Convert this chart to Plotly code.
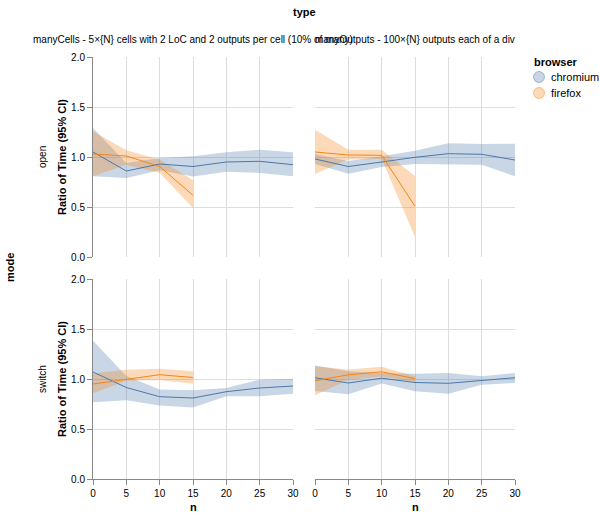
import plotly.graph_objects as go

# ---------------- data ----------------
n = [0, 5, 10, 15, 20, 25, 30]
n_ff = [0, 5, 10, 15]

# manyCells / open
cells_open_chr = [1.05, 0.86, 0.93, 0.905, 0.95, 0.957, 0.923]
cells_open_chr_lo = [0.807, 0.79, 0.867, 0.805, 0.853, 0.84, 0.807]
cells_open_chr_hi = [1.29, 0.94, 0.99, 1.007, 1.047, 1.073, 1.047]
cells_open_ff = [1.03, 1.01, 0.905, 0.617]
cells_open_ff_lo = [0.807, 0.923, 0.84, 0.49]
cells_open_ff_hi = [1.257, 1.067, 0.975, 0.768]

# manyOutputs / open
outs_open_chr = [0.98, 0.905, 0.95, 0.997, 1.033, 1.027, 0.97]
outs_open_chr_lo = [0.93, 0.833, 0.9, 0.93, 0.93, 0.923, 0.807]
outs_open_chr_hi = [1.03, 0.96, 1.007, 1.063, 1.137, 1.13, 1.133]
outs_open_ff = [1.05, 1.02, 1.017, 0.507]
outs_open_ff_lo = [0.83, 0.975, 0.98, 0.2]
outs_open_ff_hi = [1.273, 1.073, 1.073, 0.81]

# manyCells / switch
cells_sw_chr = [1.07, 0.915, 0.823, 0.81, 0.873, 0.91, 0.93]
cells_sw_chr_lo = [0.767, 0.787, 0.735, 0.715, 0.827, 0.827, 0.853]
cells_sw_chr_hi = [1.383, 1.03, 0.895, 0.887, 0.91, 0.993, 1.003]
cells_sw_ff = [0.95, 0.993, 1.043, 1.015]
cells_sw_ff_lo = [0.858, 0.983, 0.99, 0.952]
cells_sw_ff_hi = [1.055, 1.093, 1.103, 1.077]

# manyOutputs / switch
outs_sw_chr = [1.012, 0.96, 1.008, 0.965, 0.957, 0.983, 1.013]
outs_sw_chr_lo = [0.88, 0.848, 0.955, 0.877, 0.853, 0.943, 0.96]
outs_sw_chr_hi = [1.135, 1.077, 1.06, 1.052, 1.06, 1.027, 1.06]
outs_sw_ff = [0.983, 1.042, 1.072, 1.003]
outs_sw_ff_lo = [0.838, 0.993, 1.025, 0.97]
outs_sw_ff_hi = [1.127, 1.095, 1.122, 1.027]

col_labels = ["manyCells - 5×{N} cells with 2 LoC and 2 outputs per cell (10% of many)",
              "manyOutputs - 100×{N} outputs each of a div"]
row_labels = ["open", "switch"]
browsers = ["chromium", "firefox"]
x_ticks = [0, 5, 10, 15, 20, 25, 30]
y_ticks = [0.0, 0.5, 1.0, 1.5, 2.0]

# ---------------- style ----------------
W, H = 599, 517
FONT = "Liberation Sans, Arial, Helvetica, sans-serif"
COL = {"chromium": "#4c78a8", "firefox": "#f58518"}
FILL = {"chromium": "rgba(76,120,168,0.3)", "firefox": "rgba(245,133,24,0.3)"}
EDGE = {"chromium": "rgba(76,120,168,0.45)", "firefox": "rgba(245,133,24,0.45)"}

xpix = [(93, 293), (315, 515)]
ypix = [(57, 257), (279, 479)]

fig = go.Figure()

panels = {
    (0, 0): [(cells_open_chr, cells_open_chr_lo, cells_open_chr_hi), (cells_open_ff, cells_open_ff_lo, cells_open_ff_hi)],
    (0, 1): [(outs_open_chr, outs_open_chr_lo, outs_open_chr_hi), (outs_open_ff, outs_open_ff_lo, outs_open_ff_hi)],
    (1, 0): [(cells_sw_chr, cells_sw_chr_lo, cells_sw_chr_hi), (cells_sw_ff, cells_sw_ff_lo, cells_sw_ff_hi)],
    (1, 1): [(outs_sw_chr, outs_sw_chr_lo, outs_sw_chr_hi), (outs_sw_ff, outs_sw_ff_lo, outs_sw_ff_hi)],
}

layout_axes = {}
idx = 0
for r in range(2):
    for c in range(2):
        idx += 1
        xa = "x" if idx == 1 else f"x{idx}"
        ya = "y" if idx == 1 else f"y{idx}"
        xkey = "xaxis" if idx == 1 else f"xaxis{idx}"
        ykey = "yaxis" if idx == 1 else f"yaxis{idx}"
        for bi, (mid, lo, hi) in enumerate(panels[(r, c)]):
            b = browsers[bi]
            xs = n if bi == 0 else n_ff
            fig.add_trace(go.Scatter(
                x=list(xs) + list(xs)[::-1], y=list(hi) + list(lo)[::-1],
                fill="toself", fillcolor=FILL[b], line=dict(width=0),
                mode="lines", hoverinfo="skip", showlegend=False, xaxis=xa, yaxis=ya))
        for bi, (mid, lo, hi) in enumerate(panels[(r, c)]):
            b = browsers[bi]
            xs = n if bi == 0 else n_ff
            fig.add_trace(go.Scatter(
                x=xs, y=mid, mode="lines", line=dict(color=COL[b], width=1),
                showlegend=False, xaxis=xa, yaxis=ya))
        x0, x1 = xpix[c]
        y0, y1 = ypix[r]
        layout_axes[xkey] = dict(
            domain=[x0 / W, x1 / W], range=[0, 30], anchor=ya, automargin=False,
            tickvals=x_ticks, showticklabels=(r == 1),
            showgrid=True, gridcolor="#dddddd", gridwidth=1, zeroline=False,
            showline=(r == 1), linecolor="#888888", linewidth=1,
            ticks="outside" if r == 1 else "", ticklen=5, tickcolor="#888888",
            tickfont=dict(family=FONT, size=10, color="#000000"))
        layout_axes[ykey] = dict(
            domain=[1 - y1 / H, 1 - y0 / H], range=[0, 2], anchor=xa, automargin=False,
            tickvals=y_ticks, ticktext=[f"{v:.1f}" for v in y_ticks],
            showticklabels=(c == 0),
            showgrid=True, gridcolor="#dddddd", gridwidth=1, zeroline=False,
            showline=(c == 0), linecolor="#888888", linewidth=1,
            ticks="outside" if c == 0 else "", ticklen=5, tickcolor="#888888",
            tickfont=dict(family=FONT, size=10, color="#000000"))

ann = []
def A(text, x, y, size=10, bold=False, angle=0, xanchor="center", yanchor="middle"):
    ann.append(dict(text=f"<b>{text}</b>" if bold else text, x=x / W, y=1 - y / H,
                    xref="paper", yref="paper", showarrow=False, textangle=angle,
                    xanchor=xanchor, yanchor=yanchor,
                    font=dict(family=FONT, size=size, color="#000000")))

A("type", 304, 12, size=11, bold=True)
A(col_labels[0], 193, 39, size=10)
A(col_labels[1], 415, 39, size=10)
A("mode", 10, 268, size=11, bold=True, angle=-90)
for r in range(2):
    cy = (ypix[r][0] + ypix[r][1]) / 2
    A(row_labels[r], 42, cy, size=10, angle=-90)
    A("Ratio of Time (95% CI)", 62, cy, size=11, bold=True, angle=-90)
for c in range(2):
    cx = (xpix[c][0] + xpix[c][1]) / 2
    A("n", cx, 507, size=11, bold=True)

# manual legend
A("browser", 532, 62, size=11, bold=True, xanchor="left")
shapes = []
for i, b in enumerate(browsers):
    cy = 77 + 16 * i
    cx = 539
    rr = 5.5
    shapes.append(dict(type="circle", xref="paper", yref="paper",
                       x0=(cx - rr) / W, x1=(cx + rr) / W,
                       y0=1 - (cy + rr) / H, y1=1 - (cy - rr) / H,
                       fillcolor=FILL[b], line=dict(color=EDGE[b], width=1)))
    A(b, 549, cy, size=11, xanchor="left")

fig.update_layout(
    width=W, height=H, margin=dict(l=0, r=0, t=0, b=0, autoexpand=False),
    paper_bgcolor="white", plot_bgcolor="white",
    annotations=ann, shapes=shapes,
    showlegend=False,
    **layout_axes)

fig.write_html("out.html")
